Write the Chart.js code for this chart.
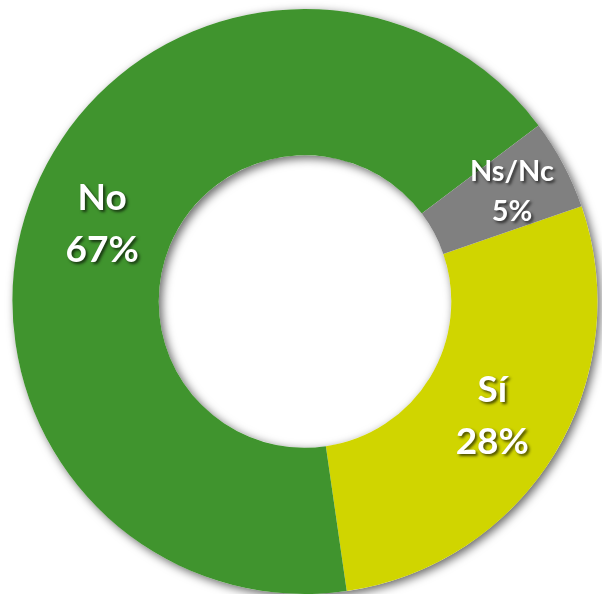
<!DOCTYPE html>
<html lang="es">
<head>
<meta charset="UTF-8">
<title>Encuesta</title>
<style>
  html, body { margin: 0; padding: 0; background: #fff; }
  #wrap { width: 602px; height: 594px; }
</style>
</head>
<body>
<div id="wrap"><canvas id="grafica"></canvas></div>
<script src="https://cdn.jsdelivr.net/npm/chart.js"></script>
<script>
// datos
const categorias = ['Sí', 'No', 'Ns/Nc'];
const valores = [28, 67, 5];
const colores = ['#d0d500', '#40942e', '#808080'];

// sombra del anillo (se dibuja antes que los sectores)
const sombraAnillo = {
  id: 'sombraAnillo',
  beforeDatasetsDraw(chart) {
    const arc = chart.getDatasetMeta(0).data[0];
    if (!arc) return;
    const ctx = chart.ctx;
    ctx.save();
    ctx.shadowColor = 'rgba(0,0,0,0.6)';
    ctx.shadowBlur = 10;
    ctx.shadowOffsetX = 3;
    ctx.shadowOffsetY = 3;
    ctx.fillStyle = '#ffffff';
    ctx.beginPath();
    ctx.arc(arc.x, arc.y, arc.outerRadius, 0, Math.PI * 2);
    ctx.arc(arc.x, arc.y, arc.innerRadius, 0, Math.PI * 2, true);
    ctx.fill();
    ctx.restore();
  }
};

// etiquetas dentro de cada sector
const etiquetas = {
  id: 'etiquetas',
  afterDatasetsDraw(chart) {
    const ctx = chart.ctx;
    const meta = chart.getDatasetMeta(0);
    meta.data.forEach((arc, i) => {
      const mid = (arc.startAngle + arc.endAngle) / 2;
      let r = (arc.innerRadius + arc.outerRadius) / 2;
      let size = 37, gap = 52;
      if (valores[i] < 10) { r += 15; size = 29; gap = 40; }
      const x = arc.x + Math.cos(mid) * r;
      const y = arc.y + Math.sin(mid) * r + (valores[i] > 50 ? 6 : 0);
      ctx.save();
      ctx.font = 'bold ' + size + 'px Lato, "Open Sans", sans-serif';
      ctx.fillStyle = '#ffffff';
      ctx.textAlign = 'center';
      ctx.textBaseline = 'middle';
      ctx.shadowColor = 'rgba(0,0,0,0.65)';
      ctx.shadowBlur = 3;
      ctx.shadowOffsetX = 2;
      ctx.shadowOffsetY = 2;
      ctx.fillText(categorias[i], x, y - gap / 2);
      ctx.fillText(valores[i] + '%', x, y + gap / 2);
      ctx.restore();
    });
  }
};

const ctx = document.getElementById('grafica').getContext('2d');
new Chart(ctx, {
  type: 'doughnut',
  data: {
    labels: categorias,
    datasets: [{
      data: valores,
      backgroundColor: colores,
      borderWidth: 0
    }]
  },
  options: {
    responsive: true,
    maintainAspectRatio: false,
    animation: false,
    rotation: 71,
    cutout: '50%',
    layout: { padding: { left: 12, right: 4, top: 9, bottom: 0 } },
    plugins: {
      legend: { display: false },
      tooltip: { enabled: false }
    }
  },
  plugins: [sombraAnillo, etiquetas]
});
</script>
</body>
</html>
